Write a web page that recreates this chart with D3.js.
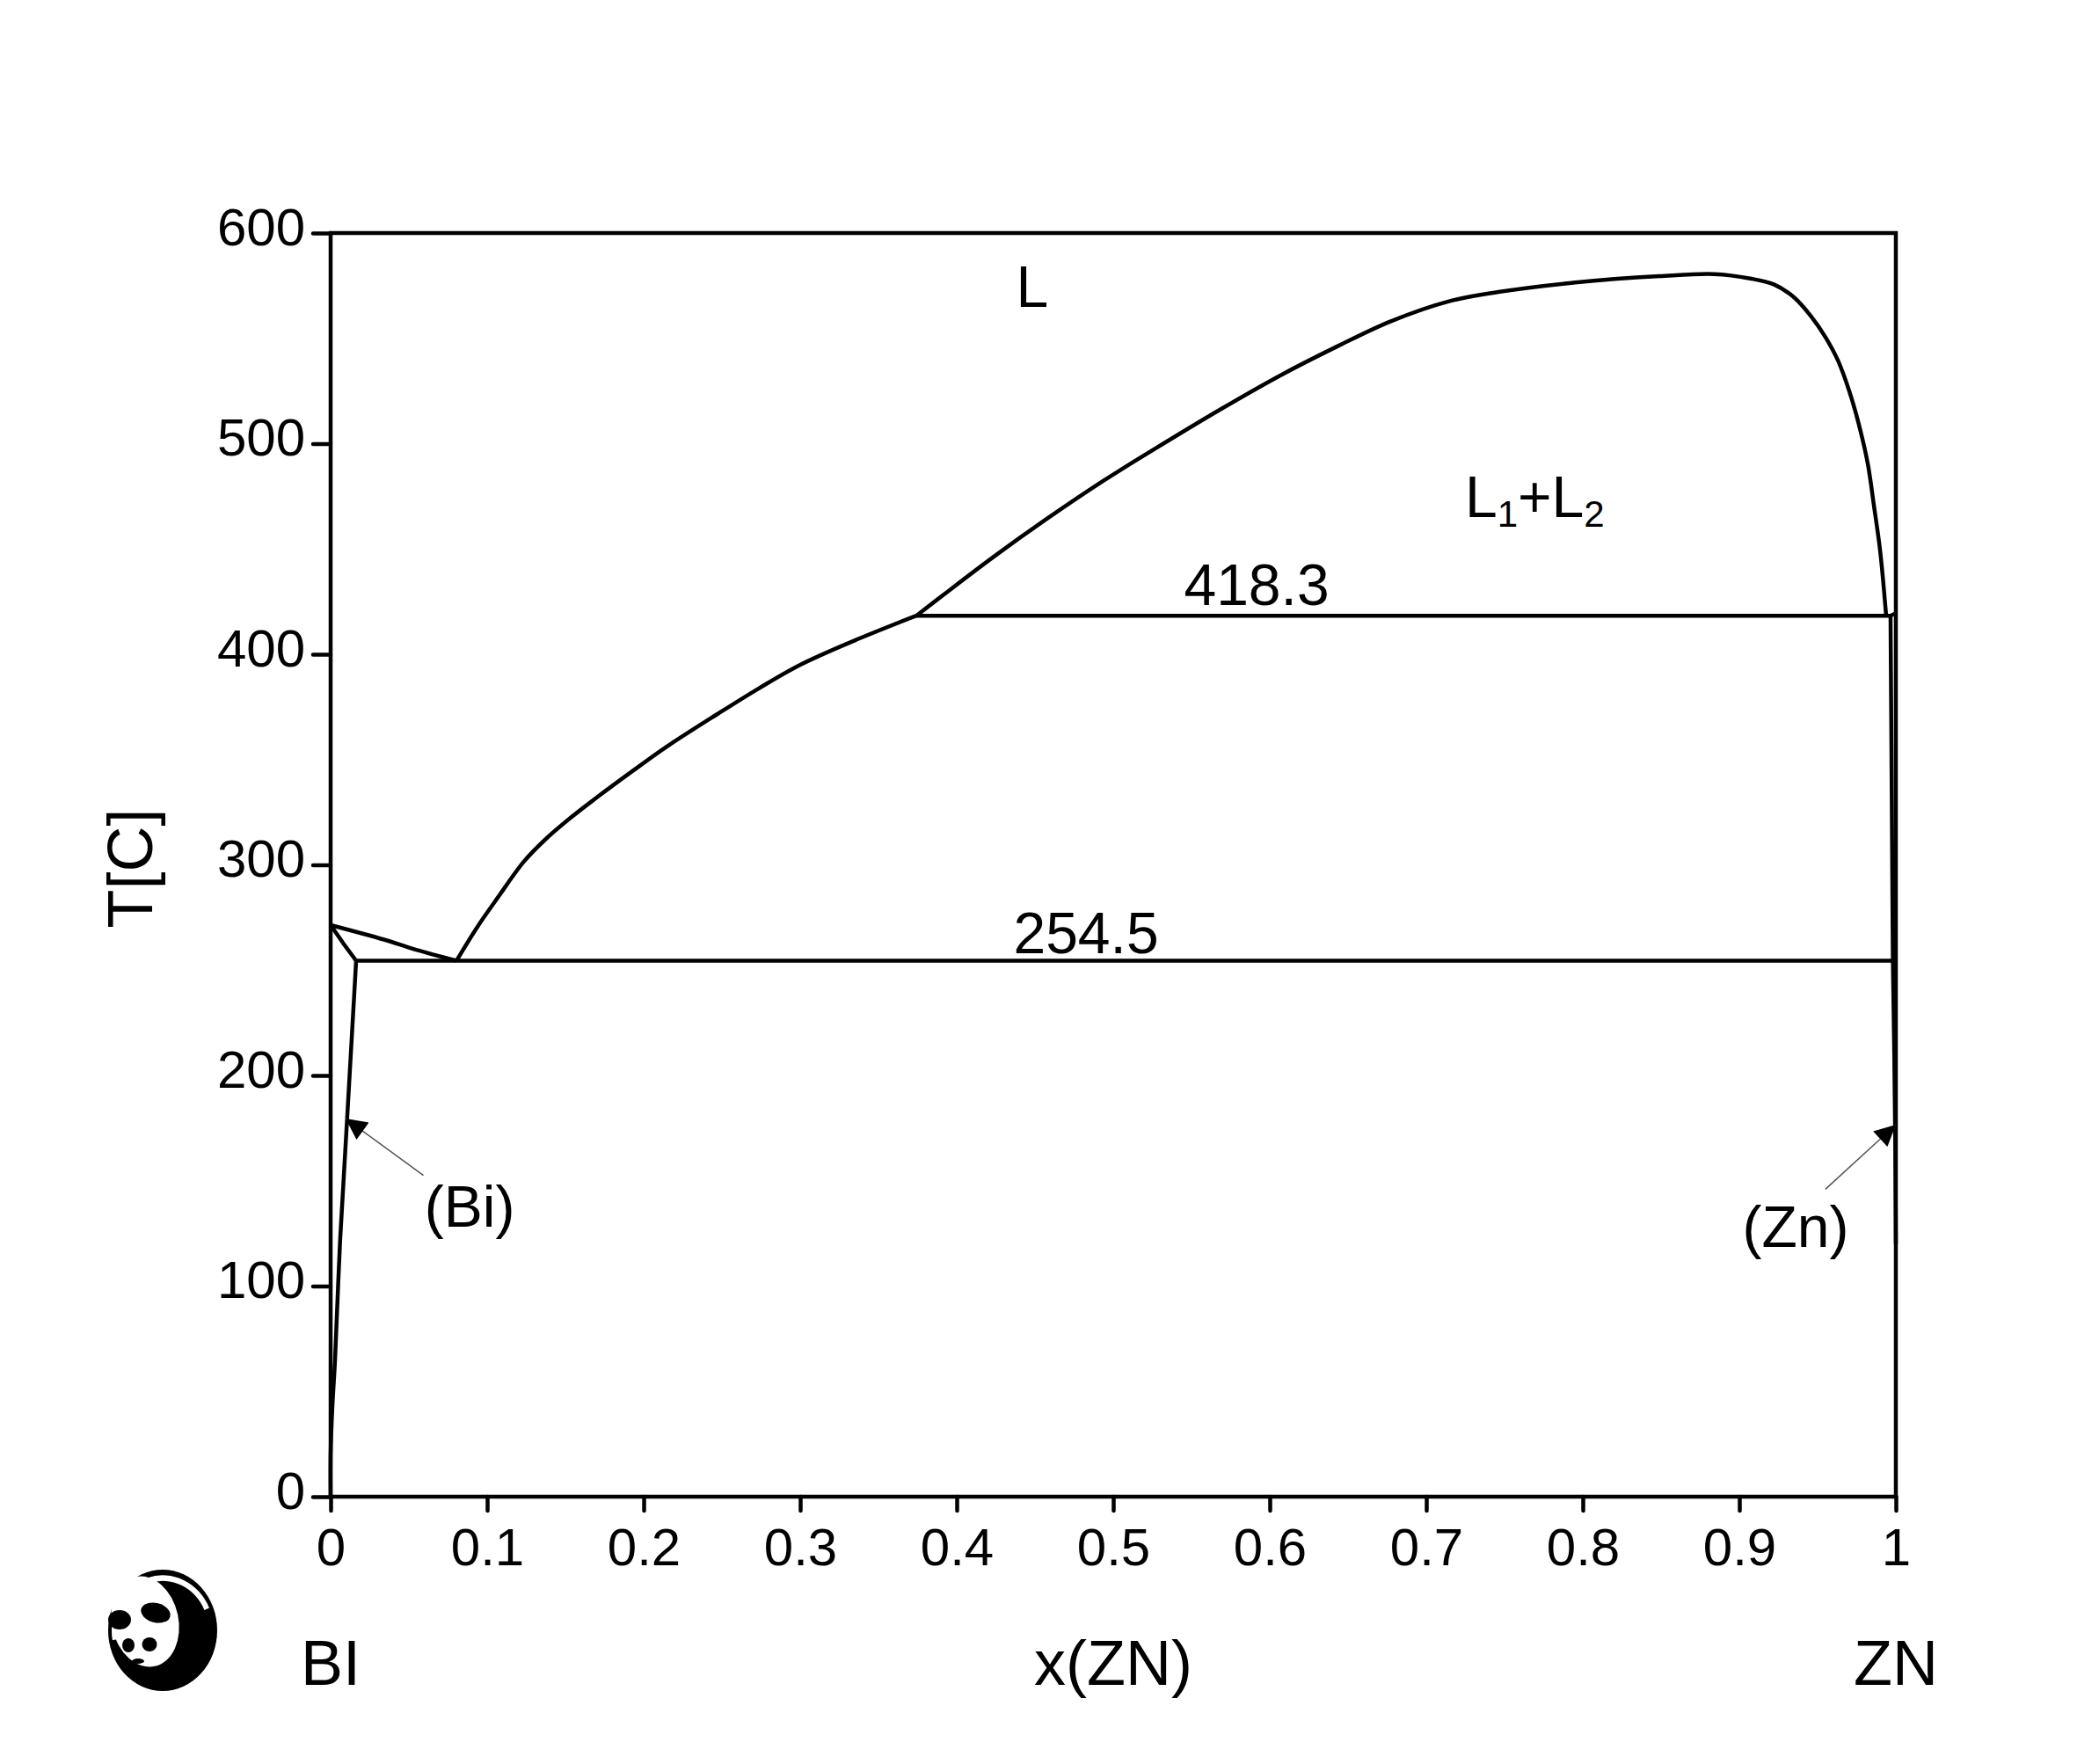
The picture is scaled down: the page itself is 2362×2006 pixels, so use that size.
<!DOCTYPE HTML>
<html>
<head>
<meta charset="UTF-8">
<style>
  body { margin: 0; background: #fff; }
  text { font-family: "Liberation Sans", Arial, sans-serif; fill: #000; }
</style>
</head>
<body>
<div id="chart"></div>
<script src="https://cdn.jsdelivr.net/npm/d3@7/dist/d3.min.js"></script>
<script>
// phase boundaries, [x(ZN), T in C]
var liquidusBi = [[0, 271.4], [0.0341, 264.5], [0.0528, 260.1], [0.0804, 254.5]];
var solidusBi = [[0, 271.4], [0.008, 262.8], [0.0163, 254.5]];
var solvusBi = [[0.0163, 254.5], [0.0107, 181.6], [0.006, 120.7], [0.0028, 64.7], [0.0011, 42.6], [0, 20], [0, 0]];
var liquidusZn = [[0.0804, 254.5], [0.0938, 270.6], [0.1073, 285.0], [0.1234, 301.5], [0.1368, 311.8],
                  [0.1529, 322.1], [0.169, 331.4], [0.1932, 344.7], [0.2147, 356.1], [0.2469, 371.5],
                  [0.2738, 383.9], [0.3006, 395.2], [0.3382, 407.6], [0.3742, 418.3]];
var gapDome = [[0.3742, 418.3], [0.392, 428.5], [0.424, 446.5], [0.456, 463.5], [0.494, 482.5],
               [0.532, 500], [0.569, 516.5], [0.607, 532.5], [0.644, 546.5], [0.677, 558],
               [0.714, 567.5], [0.746, 572], [0.795, 576.5], [0.849, 579.5], [0.884, 580.5],
               [0.907, 578.4], [0.922, 575.6], [0.935, 569.4], [0.946, 560.3], [0.955, 550.6],
               [0.963, 539.5], [0.970, 525.5], [0.976, 510.2], [0.982, 490.7], [0.986, 470.5],
               [0.990, 448.9], [0.9938, 418.3]];
var solvusZn = [[1, 419.5], [0.9966, 418.3], [0.9981, 254.5], [0.999, 209.6], [0.9996, 170], [1, 120]];
var invariants = [{T: 254.5, x0: 0.0163, x1: 0.9981}, {T: 418.3, x0: 0.3742, x1: 0.9966}];

var xTicks = [0, 0.1, 0.2, 0.3, 0.4, 0.5, 0.6, 0.7, 0.8, 0.9, 1];
var yTicks = [0, 100, 200, 300, 400, 500, 600];

// region / invariant labels [x, T]
var labels = [
  {text: "L", x: 0.4483, T: 564.9},
  {text: "418.3", x: 0.5916, T: 423.4},
  {text: "254.5", x: 0.4826, T: 258},
  {text: "(Bi)", x: 0.0888, T: 128.2},
  {text: "(Zn)", x: 0.936, T: 118.6}
];
var gapLabel = {x: 0.7247, T: 465.1};
var arrows = [
  {from: [0.0593, 152.6], to: [0.0096, 179.5]},
  {from: [0.955, 146], to: [1.0, 176.6]}
];

var W = 2362, H = 2006;
var margin = {left: 376, right: 206, top: 265, bottom: 304};

var x = d3.scaleLinear().domain([0, 1]).range([margin.left, W - margin.right]);
var y = d3.scaleLinear().domain([0, 600]).range([H - margin.bottom, margin.top]);

var svg = d3.select("#chart").append("svg")
    .attr("width", W)
    .attr("height", H);

svg.append("defs").append("marker")
    .attr("id", "head")
    .attr("viewBox", "0 0 10 10")
    .attr("refX", 10).attr("refY", 5)
    .attr("markerUnits", "userSpaceOnUse")
    .attr("markerWidth", 38).attr("markerHeight", 24)
    .attr("orient", "auto")
  .append("path")
    .attr("d", "M0,0L10,5L0,10z")
    .attr("fill", "#000");

// axes
var yAxis = svg.append("g")
    .attr("transform", "translate(" + margin.left + ",0)")
    .call(d3.axisLeft(y).tickValues(yTicks).tickSize(20).tickPadding(9));
yAxis.selectAll("text").attr("dy", "0.22em").style("font-size", "60px");

var xAxis = svg.append("g")
    .attr("transform", "translate(0," + y(0) + ")")
    .call(d3.axisBottom(x).tickValues(xTicks).tickSize(16).tickPadding(19)
      .tickFormat(function(d) { return String(+d.toFixed(1)); }));
xAxis.selectAll("text").style("font-size", "60px");

svg.selectAll(".domain").remove();
svg.selectAll(".tick line")
    .attr("stroke", "#000")
    .attr("stroke-width", 4.5)
    .attr("stroke-linecap", "round");

svg.append("rect")
    .attr("x", x(0)).attr("y", y(600))
    .attr("width", x(1) - x(0)).attr("height", y(0) - y(600))
    .attr("fill", "none")
    .attr("stroke", "#000")
    .attr("stroke-width", 4.5);

// boundaries
var straight = d3.line().x(function(d) { return x(d[0]); }).y(function(d) { return y(d[1]); });
var smooth = d3.line().x(function(d) { return x(d[0]); }).y(function(d) { return y(d[1]); })
    .curve(d3.curveCatmullRom.alpha(0.5));

var lines = svg.append("g")
    .attr("fill", "none")
    .attr("stroke", "#000")
    .attr("stroke-width", 4.5)
    .attr("stroke-linejoin", "round");

lines.append("path").attr("d", smooth(liquidusBi));
lines.append("path").attr("d", straight(solidusBi));
lines.append("path").attr("d", smooth(solvusBi));
lines.append("path").attr("d", smooth(liquidusZn));
lines.append("path").attr("d", smooth(gapDome));
lines.append("path").attr("d", straight(solvusZn));

lines.selectAll(".inv")
    .data(invariants)
  .enter().append("line")
    .attr("class", "inv")
    .attr("x1", function(d) { return x(d.x0); })
    .attr("x2", function(d) { return x(d.x1); })
    .attr("y1", function(d) { return y(d.T); })
    .attr("y2", function(d) { return y(d.T); });

// arrows to the terminal solid solutions
svg.selectAll(".arrow")
    .data(arrows)
  .enter().append("line")
    .attr("class", "arrow")
    .attr("x1", function(d) { return x(d.from[0]); })
    .attr("y1", function(d) { return y(d.from[1]); })
    .attr("x2", function(d) { return x(d.to[0]); })
    .attr("y2", function(d) { return y(d.to[1]); })
    .attr("stroke", "#555")
    .attr("stroke-width", 1.5)
    .attr("marker-end", "url(#head)");

// labels
svg.selectAll(".lbl")
    .data(labels)
  .enter().append("text")
    .attr("class", "lbl")
    .attr("x", function(d) { return x(d.x); })
    .attr("y", function(d) { return y(d.T); })
    .attr("text-anchor", "middle")
    .style("font-size", "66px")
    .text(function(d) { return d.text; });

var gl = svg.append("text")
    .attr("x", x(gapLabel.x))
    .attr("y", y(gapLabel.T))
    .style("font-size", "66px");
gl.append("tspan").text("L");
gl.append("tspan").attr("dy", 11).style("font-size", "42px").text("1");
gl.append("tspan").attr("dy", -11).text("+L");
gl.append("tspan").attr("dy", 11).style("font-size", "42px").text("2");

// axis titles
var titleY = y(0) + 214;
svg.append("text").attr("x", x(0)).attr("y", titleY).attr("text-anchor", "middle")
    .style("font-size", "72px").text("BI");
svg.append("text").attr("x", x(0.5)).attr("y", titleY).attr("text-anchor", "middle")
    .style("font-size", "72px").text("x(ZN)");
svg.append("text").attr("x", x(1)).attr("y", titleY).attr("text-anchor", "middle")
    .style("font-size", "72px").text("ZN");
svg.append("text")
    .attr("transform", "translate(173," + (y(300) + 4) + ") rotate(-90)")
    .attr("text-anchor", "middle")
    .style("font-size", "72px")
    .text("T[C]");

// panda badge
var logo = svg.append("g").attr("transform", "translate(185,1854)");
logo.append("ellipse").attr("rx", 62).attr("ry", 69).attr("fill", "#000");
logo.append("path")
    .attr("d", d3.arc()({innerRadius: 52, outerRadius: 58, startAngle: -1.75, endAngle: 1.15}))
    .attr("transform", "scale(1,1.08)")
    .attr("fill", "#fff");
logo.append("ellipse").attr("cx", -20).attr("cy", -10).attr("rx", 38).attr("ry", 52)
    .attr("transform", "rotate(-12,-20,-10)").attr("fill", "#fff");
logo.append("ellipse").attr("cx", -49).attr("cy", -12).attr("rx", 13).attr("ry", 11).attr("fill", "#000");
logo.append("ellipse").attr("cx", -8).attr("cy", -20).attr("rx", 17).attr("ry", 11)
    .attr("transform", "rotate(15,-8,-20)").attr("fill", "#000");
logo.append("ellipse").attr("cx", -39).attr("cy", 17).attr("rx", 7).attr("ry", 8).attr("fill", "#000");
logo.append("ellipse").attr("cx", -15).attr("cy", 16).attr("rx", 8.5).attr("ry", 8).attr("fill", "#000");
logo.append("ellipse").attr("cx", -28).attr("cy", 35).attr("rx", 7).attr("ry", 3).attr("fill", "#000");
</script>
</body>
</html>
